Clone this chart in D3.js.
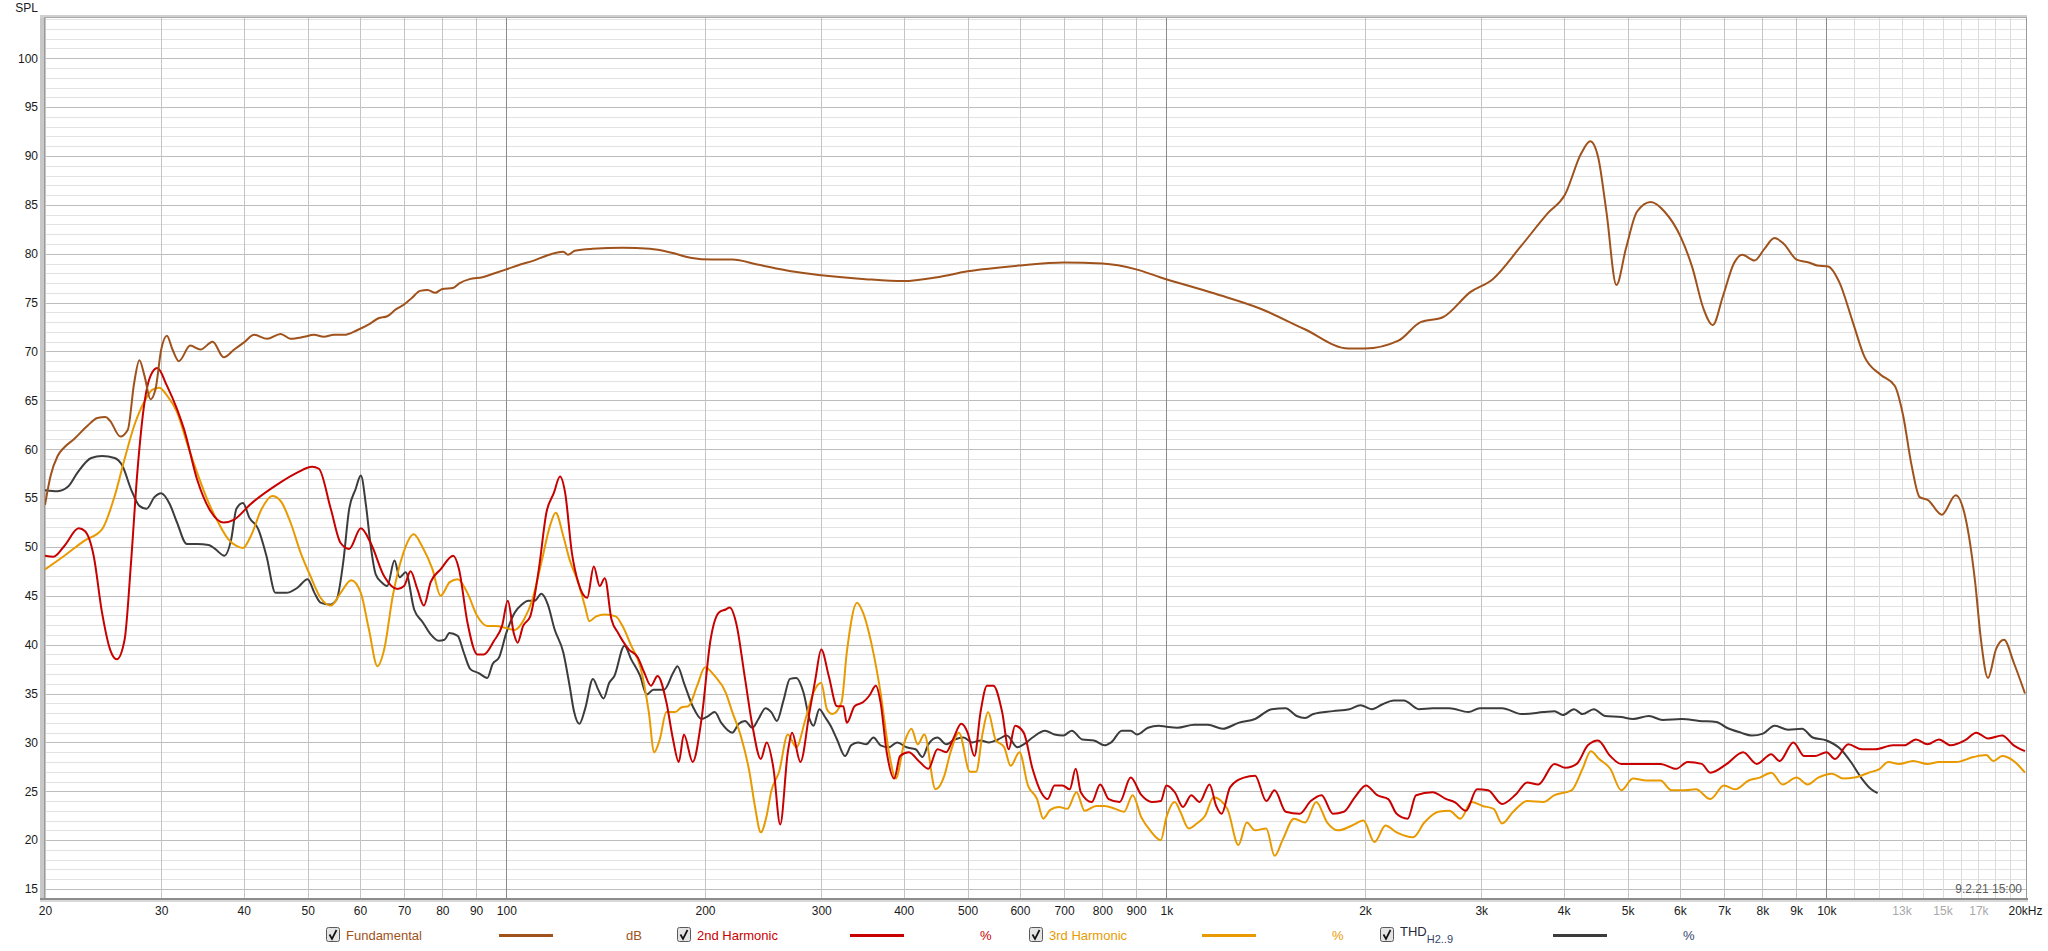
<!DOCTYPE html>
<html><head><meta charset="utf-8">
<script src="https://cdn.jsdelivr.net/npm/d3@7/dist/d3.min.js"></script>
<style>
body{margin:0;background:#fff;}
svg{display:block;font-family:"Liberation Sans",Arial,sans-serif;}
</style></head><body>
<svg id="chart" width="2048" height="951"></svg>
<script>
// ---------------- DATA ----------------
const xTickValues = [20,30,40,50,60,70,80,90,100,200,300,400,500,600,700,800,900,1000,2000,3000,4000,5000,6000,7000,8000,9000,10000,13000,15000,17000,20000];
const xTickLabels = ["20","30","40","50","60","70","80","90","100","200","300","400","500","600","700","800","900","1k","2k","3k","4k","5k","6k","7k","8k","9k","10k","13k","15k","17k","20kHz"];
const xFaintLabels = ["13k","15k","17k"];
const yTickValues = [15,20,25,30,35,40,45,50,55,60,65,70,75,80,85,90,95,100];
const gridFreqs = [20,30,40,50,60,70,80,90,100,200,300,400,500,600,700,800,900,1000,2000,3000,4000,5000,6000,7000,8000,9000,10000];
const gridFreqsHigh = [11000,12000,13000,14000,15000,16000,17000,18000,19000];
const gridFreqsMain = [100,1000,10000];

const fundamental = [[20,54.3],[20.4,57.3],[20.9,59.3],[21.4,60.2],[22.1,61.0],[23.2,62.4],[24.0,63.2],[24.7,63.3],[25.1,62.9],[26.0,61.3],[26.7,62.0],[27.3,66.8],[27.8,69.1],[28.3,67.5],[28.9,65.1],[29.4,66.1],[30.0,70.2],[30.6,71.6],[31.2,70.2],[31.9,69.0],[33.2,70.6],[34.4,70.2],[35.9,71.0],[37.3,69.4],[38.7,70.2],[40.0,70.9],[41.5,71.7],[43.4,71.3],[45.5,71.8],[47.1,71.3],[49.4,71.5],[51.1,71.7],[52.9,71.5],[54.8,71.7],[56.8,71.7],[59.5,72.2],[62,72.8],[64,73.4],[66,73.6],[68,74.3],[70,74.8],[72,75.5],[74,76.2],[76,76.3],[78,76.0],[80,76.4],[83,76.5],[85,77.0],[88,77.4],[92,77.6],[96,78.0],[100,78.4],[105,78.9],[110,79.3],[115,79.8],[119,80.1],[122,80.2],[124,79.9],[127,80.3],[135,80.5],[150,80.6],[165,80.5],[178,80.1],[190,79.6],[205,79.4],[220,79.4],[240,78.9],[270,78.2],[300,77.8],[350,77.4],[400,77.2],[450,77.6],[500,78.2],[600,78.8],[700,79.1],[800,79.0],[900,78.4],[978,77.6],[1187,75.9],[1386,74.4],[1618,72.3],[1888,70.3],[2000,70.3],[2247,71.1],[2428,73.0],[2624,73.5],[2891,76.1],[3123,77.4],[3439,80.7],[3791,84.2],[4015,86.0],[4255,90.3],[4389,91.5],[4510,89.9],[4643,84.3],[4808,76.8],[4969,80.5],[5165,84.3],[5421,85.3],[5689,84.3],[6028,81.6],[6265,78.6],[6513,74.4],[6730,72.7],[6968,75.6],[7243,79.0],[7457,79.9],[7782,79.3],[8058,80.5],[8344,81.6],[8623,81.0],[9016,79.4],[9408,79.1],[9685,78.8],[10066,78.7],[10463,77.1],[10980,72.9],[11417,69.5],[12098,67.6],[12695,66.5],[13068,63.5],[13452,58.5],[13849,55.1],[14257,54.8],[14966,53.3],[15706,55.3],[16168,53.6],[16806,46.4],[17138,40.7],[17574,36.6],[18090,39.6],[18589,40.5],[19247,38.1],[20000,35.0]];

const harmonic2 = [[20,49.1],[20.6,49.0],[21.4,50.1],[22.5,51.9],[23.0,51.6],[23.7,49.1],[24.4,43.3],[25.1,39.5],[25.7,38.5],[26.4,40.5],[27.0,48.4],[27.6,57.6],[28.3,64.8],[28.9,67.5],[29.6,68.3],[30.6,66.5],[31.7,64.1],[32.5,62.0],[34.0,56.9],[35.6,53.7],[37.3,52.5],[38.7,52.8],[41.0,54.4],[45.0,56.4],[48.2,57.6],[50.8,58.2],[52.0,58.0],[54.2,53.9],[56.1,50.4],[57.8,49.8],[60.2,51.9],[62.3,50.4],[65.3,47.0],[68.4,45.7],[70.0,46.0],[71.6,47.5],[73.3,45.7],[75.0,44.0],[76.8,46.4],[79.5,47.7],[83.1,49.1],[84.8,47.7],[87.3,42.3],[90.4,39.0],[92.5,39.0],[95.8,40.4],[98.6,42.0],[100.5,44.5],[102.7,41.1],[104,40.2],[106,41.9],[108.7,42.9],[112,47.7],[115,53.5],[118,55.5],[120.6,57.2],[122.8,55.5],[125.7,49.4],[128.6,46.3],[132.6,44.8],[135.7,48.0],[138.5,46.0],[141,46.8],[144.3,42.6],[147.7,41.2],[153.4,39.5],[158.2,38.7],[161.9,37.1],[165.6,35.8],[169.5,36.8],[174.8,34.1],[178.9,30.3],[182.5,28.0],[185.8,30.8],[191.6,28.0],[197.6,32.4],[203.9,40.5],[210,43.3],[215,43.6],[218,43.8],[223,42.2],[230,36.5],[236,31.7],[243,28.3],[248,30.0],[254,27.3],[260,21.6],[267,29.0],[271,31.0],[279,28.0],[288,33.1],[294,36.5],[300,39.5],[308,36.8],[317,33.7],[324,33.7],[328,32.0],[337,33.7],[347,34.1],[355,34.8],[363,35.8],[369,34.1],[377,29.0],[387,26.3],[395,28.6],[407,29.0],[423,28.0],[436,27.3],[450,29.3],[464,29.0],[475,30.3],[489,31.9],[500,31.0],[512,28.6],[523,33.1],[535,35.8],[547,35.8],[564,33.1],[577,29.3],[590,31.7],[608,31.0],[627,27.3],[646,24.9],[661,24.2],[677,25.6],[696,25.6],[714,25.2],[729,27.3],[742,24.9],[771,23.9],[794,25.7],[818,24.2],[850,23.9],[883,26.4],[917,24.6],[951,23.9],[981,24.0],[1000,25.6],[1030,24.9],[1060,23.4],[1091,24.6],[1123,23.9],[1163,25.7],[1190,23.5],[1213,22.7],[1249,25.4],[1311,26.4],[1363,26.6],[1417,24.0],[1459,25.1],[1517,22.9],[1592,22.7],[1655,24.0],[1719,24.6],[1788,22.7],[1858,22.9],[1931,24.4],[2007,25.6],[2087,24.6],[2169,24.2],[2233,22.7],[2321,22.2],[2390,24.6],[2532,24.9],[2656,24.2],[2735,23.9],[2844,23.0],[2956,25.2],[3073,25.1],[3226,23.7],[3387,24.7],[3521,25.9],[3661,25.7],[3873,27.8],[4026,27.4],[4186,27.8],[4352,29.7],[4508,30.2],[4706,28.6],[4890,27.8],[5094,27.8],[5336,27.8],[5605,27.8],[5922,27.3],[6165,28.0],[6474,27.8],[6672,26.9],[7066,27.8],[7480,29.0],[7848,27.8],[8251,28.8],[8496,28.1],[8913,30.0],[9259,28.6],[9606,28.6],[10010,29.0],[10305,28.3],[10797,29.8],[11317,29.3],[11865,29.3],[12618,29.7],[13134,29.7],[13673,30.3],[14233,29.8],[14815,30.3],[15422,29.7],[16213,30.2],[16876,31.0],[17567,30.4],[18468,30.7],[19224,29.7],[20000,29.1]];

const harmonic3 = [[20,47.7],[21.4,49.1],[22.9,50.6],[24.4,51.8],[25.5,55.2],[26.4,59.0],[27.3,62.4],[28.3,64.9],[29.1,66.1],[29.8,66.3],[30.6,65.5],[31.7,63.8],[32.8,60.7],[34.0,57.6],[35.4,54.5],[36.6,52.5],[37.9,50.8],[39.0,50.1],[39.9,49.9],[41.0,51.1],[42.6,53.9],[44.2,55.2],[45.5,54.7],[47.1,52.5],[48.8,49.4],[50.5,47.0],[52.3,44.8],[54.2,44.0],[56.1,45.3],[58.2,46.6],[60.2,45.3],[61.9,41.6],[63.8,37.8],[65.3,39.5],[67.3,45.0],[69.6,49.1],[72.4,51.3],[74.5,50.1],[77.3,47.7],[79.5,45.0],[82.1,46.4],[84.4,46.7],[87.3,45.3],[90.4,42.9],[93.6,41.9],[96.4,41.9],[99.9,41.7],[103,41.5],[106.4,42.6],[109.5,44.6],[113,48.4],[116.4,52.1],[118.8,53.5],[122,51.1],[124.7,48.7],[128.6,46.3],[131.6,43.9],[133.6,42.4],[136.8,42.9],[141,43.1],[146.5,42.9],[150,41.9],[154.6,39.9],[159.5,37.8],[164.4,33.1],[167.5,29.0],[170.8,30.3],[174.8,33.1],[180.2,33.1],[184.4,33.6],[188.7,33.7],[194.6,35.8],[200,37.7],[206.9,36.8],[215,35.1],[220,33.1],[226.5,30.7],[233.5,27.0],[238,23.5],[243,20.8],[248,22.5],[252,25.0],[259,27.0],[267,30.8],[275,29.5],[284,32.4],[292,35.1],[300,36.1],[306,33.4],[312,32.9],[322,34.1],[328,39.2],[340,44.3],[347,43.3],[358,39.9],[369,35.1],[380,29.0],[389,26.3],[401,30.0],[411,31.4],[420,29.8],[430,30.8],[447,25.2],[461,26.6],[471,29.0],[485,31.0],[504,27.0],[515,27.0],[527,31.0],[537,33.1],[551,30.3],[568,29.5],[581,27.6],[599,29.0],[617,25.6],[637,24.2],[651,22.2],[667,23.1],[687,23.4],[708,23.2],[731,24.9],[752,23.0],[783,23.5],[806,23.5],[837,23.2],[863,22.9],[889,24.6],[917,22.3],[945,21.0],[981,20.0],[1000,22.3],[1030,23.9],[1050,22.9],[1081,21.2],[1112,21.7],[1145,22.5],[1179,24.4],[1237,23.2],[1286,19.5],[1324,21.8],[1363,21.0],[1417,21.2],[1459,18.4],[1502,20.1],[1561,22.2],[1623,21.8],[1687,23.9],[1753,21.8],[1822,21.0],[1912,21.5],[1989,22.0],[2067,19.8],[2148,21.5],[2233,20.8],[2366,20.3],[2460,21.8],[2583,22.9],[2684,23.0],[2790,22.2],[2900,23.9],[3014,23.5],[3133,23.2],[3226,21.7],[3354,22.9],[3521,24.0],[3728,23.9],[3873,24.6],[4111,25.1],[4272,27.3],[4397,29.1],[4527,28.3],[4706,27.3],[4890,25.1],[5094,26.3],[5336,26.1],[5605,26.1],[5827,25.1],[6104,25.1],[6346,25.2],[6672,24.2],[6997,25.6],[7272,25.2],[7629,26.1],[7929,26.4],[8251,26.9],[8586,25.7],[9014,26.4],[9370,25.7],[9722,26.4],[10206,26.8],[10611,26.3],[11031,26.4],[11591,26.9],[12048,27.3],[12407,28.0],[12893,27.8],[13543,28.1],[14233,27.8],[14815,28.0],[15724,28.0],[16710,28.5],[17463,28.7],[17919,28.1],[18468,28.6],[19224,28.1],[20000,26.9]];

const thd = [[20,55.8],[20.9,55.7],[21.7,56.2],[22.4,57.6],[23.5,59.1],[24.4,59.3],[25.5,59.1],[26.2,58.3],[27.0,55.9],[27.8,54.2],[28.5,53.9],[29.3,55.1],[30.0,55.5],[30.9,54.4],[31.7,52.5],[32.8,50.3],[34.0,50.3],[35.4,50.2],[36.2,49.8],[37.4,49.1],[38.3,50.8],[39.0,53.9],[39.9,54.5],[40.8,53.0],[42.1,51.8],[43.3,49.1],[44.7,45.3],[46.4,45.3],[48.2,45.8],[50.0,46.7],[51.2,45.3],[52.3,44.3],[54.0,44.1],[55.3,44.6],[56.6,48.4],[57.8,53.9],[59.1,55.9],[60.2,57.3],[61.3,54.2],[62.3,50.1],[63.4,47.2],[64.9,46.3],[66.0,46.0],[67.7,48.6],[68.9,46.9],[70.4,47.4],[72.5,43.6],[74.7,42.3],[76.7,41.1],[79.0,40.4],[80.6,40.5],[82.0,41.2],[84.4,40.9],[86.2,39.2],[88.2,37.5],[90.8,37.1],[93.6,36.6],[95.3,38.0],[97.5,38.7],[100,41.2],[103,43.3],[105.5,44.1],[108,44.5],[110.4,44.5],[113,45.2],[115.6,44.1],[118.3,41.6],[122,39.2],[124.7,35.8],[126.7,33.1],[129,31.9],[131.6,33.4],[135.3,36.5],[137.8,35.4],[140.4,34.5],[143.2,36.1],[145.8,36.8],[151,39.9],[154.6,38.5],[159.5,36.8],[163.2,34.9],[167,35.4],[173.4,35.4],[178.9,37.1],[181.7,37.8],[185.8,36.1],[191.6,33.7],[197.6,32.4],[202.2,32.7],[206.9,33.1],[211.7,32.0],[220,31.0],[225,31.9],[230,32.2],[236,31.5],[241,32.4],[247,33.5],[252,33.1],[257,32.2],[263,34.3],[269,36.5],[275,36.6],[282,35.1],[288,32.4],[292,31.7],[298,33.4],[304,32.6],[310,31.7],[317,30.3],[326,28.6],[333,29.7],[341,30.0],[351,29.8],[360,30.5],[369,29.7],[380,29.5],[391,30.0],[404,29.5],[417,29.3],[427,28.5],[436,29.8],[450,30.5],[464,29.8],[478,30.3],[493,30.5],[508,30.0],[523,30.2],[539,30.0],[556,30.3],[573,30.7],[595,29.5],[608,29.8],[627,30.5],[655,31.2],[677,30.8],[698,30.7],[719,31.2],[746,30.3],[777,30.2],[806,29.7],[825,30.0],[856,31.2],[883,31.2],[903,30.8],[938,31.5],[974,31.7],[1000,31.6],[1039,31.5],[1102,31.8],[1156,31.8],[1218,31.4],[1286,32.0],[1363,32.4],[1444,33.4],[1516,33.5],[1576,32.7],[1623,32.5],[1670,32.9],[1788,33.2],[1894,33.4],[1969,33.8],[2047,33.4],[2127,33.9],[2211,34.3],[2290,34.3],[2414,33.4],[2532,33.5],[2684,33.5],[2869,33.1],[2985,33.5],[3226,33.5],[3455,32.9],[3728,33.1],[3873,33.2],[3990,32.8],[4147,33.4],[4272,32.9],[4443,33.4],[4619,32.7],[4890,32.6],[5094,32.4],[5386,32.7],[5650,32.3],[6042,32.4],[6418,32.2],[6811,32.1],[7066,31.5],[7422,31.0],[7712,30.7],[8019,30.9],[8347,31.7],[8757,31.3],[9188,31.4],[9535,30.5],[10010,30.2],[10517,29.3],[10893,28.0],[11317,26.3],[11694,25.2],[11960,24.8]];

const seriesNames = ["Fundamental","2nd Harmonic","3rd Harmonic","THD"];
const seriesUnits = ["dB","%","%","%"];
const seriesColors = ["#a0521c","#c80000","#e89a00","#3c3c3c"];
const seriesData = [fundamental, harmonic2, harmonic3, thd];
const timestampText = "9.2.21 15:00";

// ---------------- CHART ----------------
const svg = d3.select("#chart");
const L = 45, R = 2025, T = 18, B = 898;
const x = d3.scaleLog().domain([20,20000]).range([L,R]);
const y = d3.scaleLinear().domain([14.08,104.12]).range([B,T]);

// plot background
svg.append("rect").attr("x",L).attr("y",T).attr("width",R-L+1).attr("height",B-T).attr("fill","#fff");

const grid = svg.append("g");
// horizontal minor / major grid
d3.range(15,105,1).forEach(v=>{
  grid.append("line").attr("x1",L).attr("x2",R+1).attr("y1",Math.round(y(v))+0.5).attr("y2",Math.round(y(v))+0.5)
    .attr("stroke", v%5===0 ? "#bdbdbd" : "#e2e2e2").attr("stroke-width",1);
});
// vertical grid
gridFreqsHigh.forEach(f=>{
  grid.append("line").attr("x1",Math.round(x(f))+0.5).attr("x2",Math.round(x(f))+0.5).attr("y1",T).attr("y2",B)
    .attr("stroke","#dcdcdc");
});
gridFreqs.forEach(f=>{
  const main = gridFreqsMain.includes(f);
  grid.append("line").attr("x1",Math.round(x(f))+0.5).attr("x2",Math.round(x(f))+0.5).attr("y1",T).attr("y2",B)
    .attr("stroke", main ? "#8a8a8a" : "#c4c4c4");
});

// border (3d look)
svg.append("rect").attr("x",40).attr("y",T-2).attr("width",4).attr("height",B-T+4).attr("fill","#c8c8c8");
svg.append("rect").attr("x",40).attr("y",T-3).attr("width",R-40+2).attr("height",3).attr("fill","#d0d0d0");
svg.append("line").attr("x1",44.5).attr("x2",44.5).attr("y1",T).attr("y2",B).attr("stroke","#9a9a9a");
svg.append("line").attr("x1",44).attr("x2",R+2).attr("y1",T-0.5).attr("y2",T-0.5).attr("stroke","#a8a8a8");
svg.append("line").attr("x1",R+1.5).attr("x2",R+1.5).attr("y1",T).attr("y2",B).attr("stroke","#9a9a9a");
svg.append("rect").attr("x",40).attr("y",B).attr("width",R-40+3).attr("height",2).attr("fill","#8c8c8c");
svg.append("rect").attr("x",40).attr("y",B+2).attr("width",R-40+3).attr("height",2).attr("fill","#d8d8d8");

// curves
const line = d3.line().x(d=>x(d[0])).y(d=>y(d[1])).curve(d3.curveMonotoneX);
const clip = svg.append("clipPath").attr("id","pc").append("rect").attr("x",L).attr("y",T).attr("width",R-L+1).attr("height",B-T);
const curves = svg.append("g").attr("clip-path","url(#pc)");
[3,2,1,0].forEach(i=>{
  curves.append("path").attr("d",line(seriesData[i])).attr("fill","none")
    .attr("stroke",seriesColors[i]).attr("stroke-width",2).attr("stroke-linejoin","round");
});

// timestamp
svg.append("text").attr("x",R-3).attr("y",B-5).attr("text-anchor","end")
  .attr("font-size",12).attr("fill","#5a5a5a").text(timestampText);

// axes
const xAxis = d3.axisBottom(x).tickValues(xTickValues).tickSize(0).tickPadding(0)
  .tickFormat((d,i)=>xTickLabels[i]);
const gx = svg.append("g").attr("transform",`translate(0,${B+17})`).call(xAxis);
gx.select(".domain").remove();
gx.selectAll("text").attr("font-size",12).attr("font-family","Liberation Sans, Arial, sans-serif")
  .attr("dy",0).attr("fill",(d,i)=>xFaintLabels.includes(xTickLabels[i]) ? "#a8a8a8" : "#1a1a1a");

const yAxis = d3.axisLeft(y).tickValues(yTickValues).tickSize(0).tickPadding(0).tickFormat(d3.format("d"));
const gy = svg.append("g").attr("transform",`translate(38,0)`).call(yAxis);
gy.select(".domain").remove();
gy.selectAll("text").attr("font-size",12).attr("font-family","Liberation Sans, Arial, sans-serif").attr("fill","#1a1a1a");

svg.append("text").attr("x",38).attr("y",12).attr("text-anchor","end").attr("font-size",12).attr("fill","#1a1a1a").text("SPL");

// legend
const legendX = [326, 677, 1029, 1380];
const legY = 935;
const leg = svg.append("g");
seriesNames.forEach((name,i)=>{
  const bx = legendX[i];
  const g = leg.append("g");
  g.append("rect").attr("x",bx+0.5).attr("y",legY-7.5).attr("width",13).attr("height",14).attr("rx",2)
    .attr("fill","#e4e4e4").attr("stroke","#5a5a5a");
  g.append("path").attr("d",`M${bx+3.5},${legY-0.5} L${bx+6},${legY+4} L${bx+10.5},${legY-5}`)
    .attr("fill","none").attr("stroke","#111").attr("stroke-width",1.7);
  const col = i===3 ? "#33456e" : seriesColors[i];
  if(i===3){
    const t = g.append("text").attr("x",bx+20).attr("y",legY+1).attr("font-size",13).attr("fill","#2a2a3a");
    t.append("tspan").text("THD");
    t.append("tspan").attr("dy",7).attr("font-size",11).attr("fill",col).text("H2..9");
  } else {
    g.append("text").attr("x",bx+20).attr("y",legY+5).attr("font-size",13).attr("fill",col).text(name);
  }
  g.append("line").attr("x1",bx+173).attr("x2",bx+227).attr("y1",legY+0.5).attr("y2",legY+0.5)
    .attr("stroke",seriesColors[i]).attr("stroke-width",3);
  g.append("text").attr("x",bx+(i===0?300:303)).attr("y",legY+5).attr("font-size",13).attr("fill",col).text(seriesUnits[i]);
});
</script>
</body></html>
